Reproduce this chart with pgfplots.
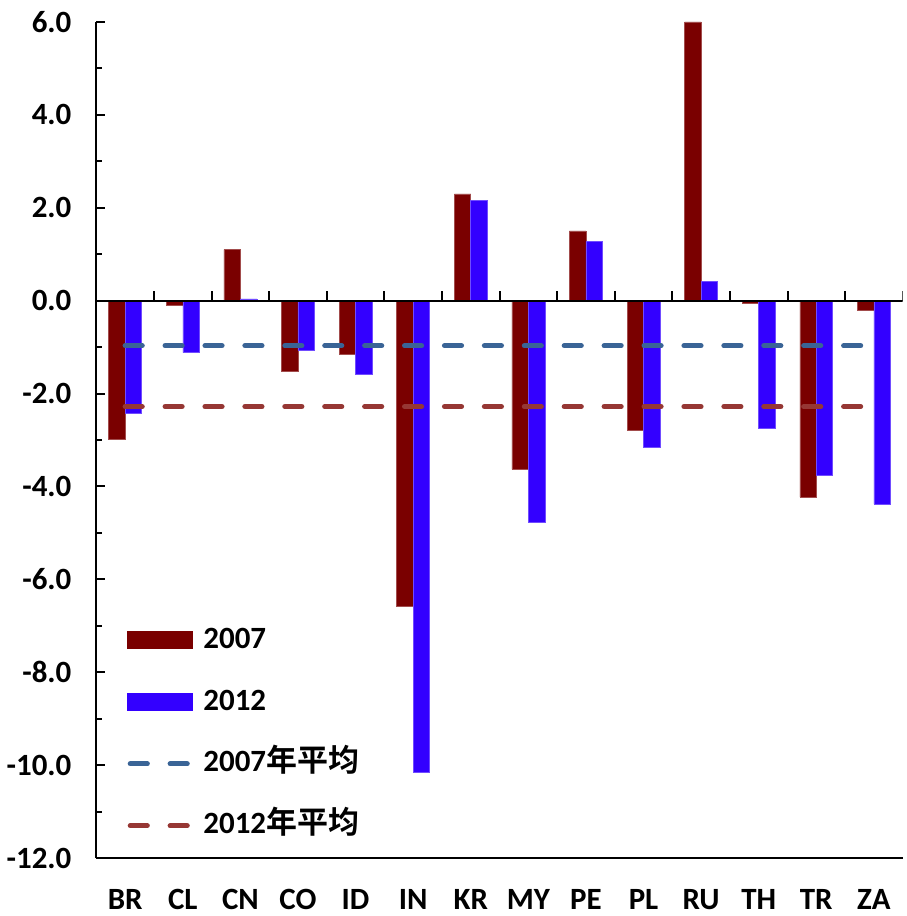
\documentclass[border=0pt]{standalone}
\usepackage{pgfplots}
\pgfplotsset{compat=1.18}
\usepackage{fontspec}
\setmainfont{Carlito}
\newfontfamily\cjk{Noto Sans CJK SC}[BoldFont={Noto Sans CJK SC Bold}]
\definecolor{c07}{RGB}{122,0,0}
\definecolor{c12}{RGB}{51,0,255}
\definecolor{a07}{RGB}{58,100,150}
\definecolor{a12}{RGB}{150,55,52}
\begin{document}
\begin{tikzpicture}
\begin{axis}[
  scale only axis, width=404pt, height=419pt,
  xmin=-0.5, xmax=13.5, ymin=-12, ymax=6,
  axis x line*=bottom, axis y line*=left,
  axis line style={line width=1pt, black},
  xtick={0,...,13},
  xticklabels={BR,CL,CN,CO,ID,IN,KR,MY,PE,PL,RU,TH,TR,ZA},
  x tick style={draw=none},
  xticklabel style={inner sep=0pt, yshift=-15.5pt},
  ytick={-12,-10,...,6}, minor y tick num=1,
  tick align=inside, ytick pos=left,
  major tick length=4.5pt, minor tick length=3pt,
  y tick style={line width=1pt, black},
  yticklabel style={xshift=-9pt},
  tick label style={font=\fontsize{15.5}{18}\selectfont\bfseries},
  /pgf/number format/assume math mode=true,
  yticklabel={\pgfmathprintnumber[fixed,fixed zerofill,precision=1]{\tick}},
  legend cell align=left,
  legend style={draw=none, fill=none, at={(rel axis cs:0.03,0.285)}, anchor=north west,
    font=\fontsize{15.5}{18}\selectfont\bfseries,
    row sep=15pt, nodes={inner sep=1pt, text height=11pt, text depth=3pt},
    /tikz/every even column/.append style={column sep=4pt},
    /tikz/every odd column/.append style={column sep=4.5pt}},
]
\addplot[ybar, bar width=8.25pt, bar shift=-4.125pt, fill=c07, draw=c07!70!white, line width=0.3pt,
  legend image code/.code={\fill[c07] (0pt,-4.25pt) rectangle (32.5pt,4.25pt);}]
 coordinates {(0,-2.99) (1,-0.10) (2,1.10) (3,-1.53) (4,-1.16) (5,-6.57) (6,2.30) (7,-3.63) (8,1.50) (9,-2.79) (10,6.0) (11,-0.05) (12,-4.23) (13,-0.21)};
\addlegendentry{2007}
\addplot[ybar, bar width=8.25pt, bar shift=4.125pt, fill=c12, draw=c12!70!white, line width=0.3pt,
  legend image code/.code={\fill[c12] (0pt,-4.25pt) rectangle (32.5pt,4.25pt);}]
 coordinates {(0,-2.43) (1,-1.12) (2,0.04) (3,-1.07) (4,-1.59) (5,-10.16) (6,2.15) (7,-4.77) (8,1.27) (9,-3.16) (10,0.41) (11,-2.75) (12,-3.76) (13,-4.38)};
\addlegendentry{2012}
\draw[line width=1pt] (axis cs:-0.5,0) -- (axis cs:13.5,0);
\pgfplotsinvokeforeach{0.5,1.5,...,13.5}{\draw[line width=1pt] (axis cs:#1,0) -- (axis cs:#1,0.2);}
\addplot[sharp plot, no marks, a07, line width=2.6pt, line cap=round, dash pattern=on 8.5pt off 11.5pt,
  legend image code/.code={\draw[a07, line width=2.6pt, line cap=round, dash pattern=on 8.5pt off 11.5pt] (1.5pt,0pt) -- (31pt,0pt);}]
 coordinates {(0,-0.97) (13,-0.97)};
\addlegendentry{2007{\cjk\bfseries 年平均}}
\addplot[sharp plot, no marks, a12, line width=2.6pt, line cap=round, dash pattern=on 8.5pt off 11.5pt,
  legend image code/.code={\draw[a12, line width=2.6pt, line cap=round, dash pattern=on 8.5pt off 11.5pt] (1.5pt,0pt) -- (31pt,0pt);}]
 coordinates {(0,-2.28) (13,-2.28)};
\addlegendentry{2012{\cjk\bfseries 年平均}}
\end{axis}
\path (current axis.north) ++(0,11pt);
\path (current axis.east) ++(2pt,0);
\path (current axis.south) ++(0,-29pt);
\end{tikzpicture}
\end{document}
